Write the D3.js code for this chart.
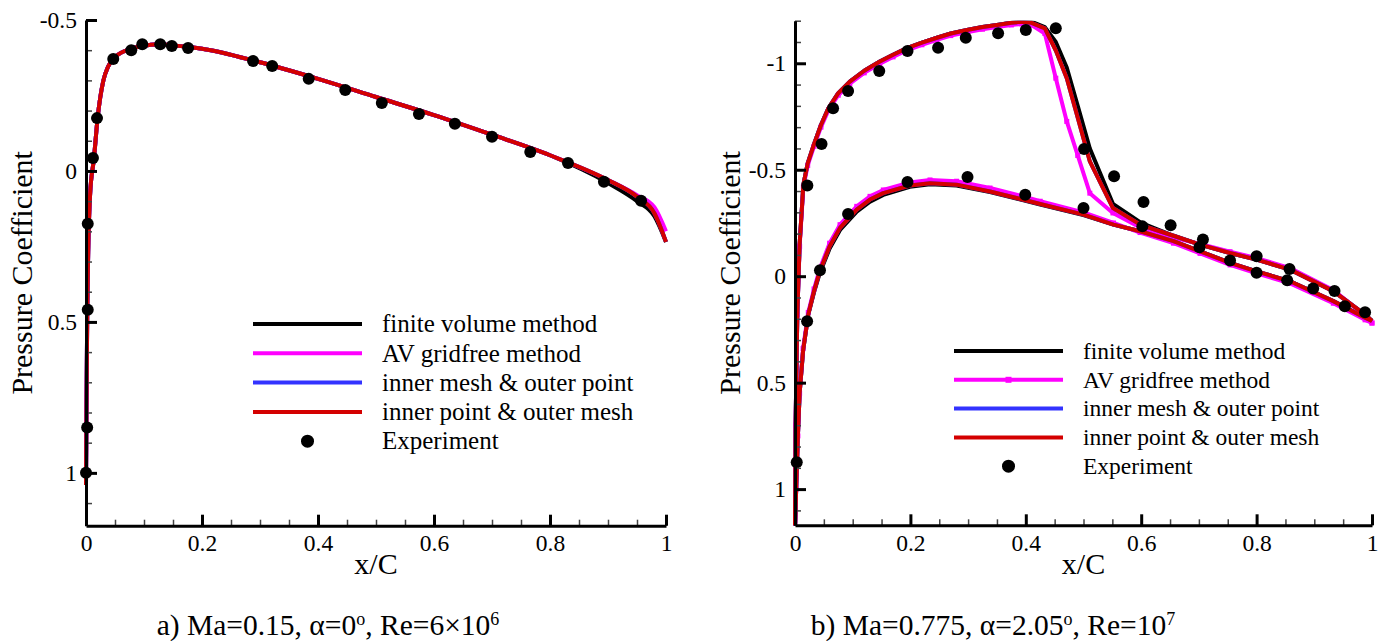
<!DOCTYPE html>
<html><head><meta charset="utf-8">
<script src="https://cdn.jsdelivr.net/npm/d3@7"></script>
<style>
html,body{margin:0;padding:0;background:#fff;}
text{font-family:"Liberation Serif","Times New Roman",serif;fill:#000;}
</style></head>
<body>
<svg id="chart" width="1391" height="641"></svg>
<script>
// ---------- DATA ----------
const seriesNames = ["finite volume method","AV gridfree method","inner mesh & outer point","inner point & outer mesh","Experiment"];
const seriesColors = ["#000000","#ff00ff","#3333ff","#d40000"];
const xTicks = [0,0.2,0.4,0.6,0.8,1];
const leftYTicks = [-0.5,0,0.5,1];
const rightYTicks = [-1,-0.5,0,0.5,1];

// (a) Ma=0.15
const leftX   = [0,0.0003,0.001,0.002,0.004,0.007,0.0138,0.02,0.03,0.038,0.047,0.07,0.093,0.128,0.15,0.18,0.2,0.3,0.4,0.5,0.6,0.7,0.8,0.9,0.95,0.98,1.0];
const leftFV  = [1.04,0.95,0.75,0.5,0.25,0.08,-0.043,-0.175,-0.30,-0.345,-0.371,-0.40,-0.412,-0.42,-0.416,-0.41,-0.405,-0.36,-0.305,-0.245,-0.185,-0.12,-0.052,0.04,0.10,0.15,0.235];
const leftAV  = [1.04,0.95,0.75,0.5,0.25,0.08,-0.043,-0.175,-0.30,-0.345,-0.371,-0.40,-0.412,-0.42,-0.416,-0.41,-0.405,-0.36,-0.305,-0.245,-0.185,-0.12,-0.052,0.03,0.08,0.12,0.20];
const leftIMOP= [1.04,0.95,0.75,0.5,0.25,0.08,-0.043,-0.175,-0.30,-0.345,-0.371,-0.40,-0.412,-0.42,-0.416,-0.41,-0.405,-0.36,-0.305,-0.245,-0.185,-0.12,-0.052,0.03,0.085,0.14,0.235];
const leftIPOM= [1.04,0.95,0.75,0.5,0.25,0.08,-0.043,-0.175,-0.30,-0.345,-0.371,-0.40,-0.412,-0.42,-0.416,-0.41,-0.405,-0.36,-0.305,-0.245,-0.185,-0.12,-0.052,0.03,0.085,0.14,0.235];
const leftExpX = [0,0.002,0.003,0.003,0.012,0.019,0.047,0.078,0.097,0.128,0.148,0.176,0.288,0.321,0.384,0.447,0.510,0.574,0.636,0.700,0.766,0.831,0.893,0.957];
const leftExpCp= [1.0,0.85,0.46,0.175,-0.043,-0.175,-0.371,-0.40,-0.42,-0.42,-0.414,-0.407,-0.364,-0.348,-0.305,-0.268,-0.225,-0.189,-0.156,-0.113,-0.063,-0.026,0.036,0.099];

// (b) Ma=0.775 upper surface
const rUpX   = [0,0.001,0.004,0.008,0.0145,0.022,0.033,0.045,0.058,0.075,0.095,0.12,0.147,0.17,0.194,0.22,0.246,0.27,0.298,0.325,0.35,0.375,0.393,0.41,0.433,0.452,0.471,0.49,0.511,0.551,0.6,0.656,0.702,0.754,0.8,0.858,0.933,0.988,1.0];
const rUpFV  = [1.2,0.7,0.18,-0.15,-0.43,-0.53,-0.62,-0.71,-0.79,-0.86,-0.914,-0.965,-1.008,-1.04,-1.071,-1.097,-1.12,-1.14,-1.156,-1.17,-1.18,-1.19,-1.2,-1.195,-1.17,-1.10,-0.98,-0.80,-0.60,-0.34,-0.25,-0.19,-0.148,-0.109,-0.078,-0.031,0.07,0.18,0.21];
const rUpAV  = [1.2,0.7,0.18,-0.14,-0.42,-0.52,-0.61,-0.70,-0.78,-0.85,-0.904,-0.955,-0.998,-1.03,-1.061,-1.087,-1.11,-1.13,-1.146,-1.16,-1.17,-1.18,-1.185,-1.18,-1.14,-0.93,-0.727,-0.567,-0.39,-0.297,-0.227,-0.18,-0.152,-0.115,-0.085,-0.038,0.065,0.185,0.22];
const rUpIMOP= [1.2,0.7,0.18,-0.15,-0.43,-0.53,-0.62,-0.71,-0.79,-0.86,-0.914,-0.965,-1.008,-1.04,-1.071,-1.097,-1.12,-1.14,-1.156,-1.17,-1.18,-1.19,-1.195,-1.19,-1.164,-1.06,-0.93,-0.744,-0.539,-0.32,-0.24,-0.19,-0.148,-0.109,-0.078,-0.031,0.07,0.18,0.21];
const rUpIPOM= [1.2,0.7,0.18,-0.15,-0.43,-0.53,-0.62,-0.71,-0.79,-0.86,-0.914,-0.965,-1.008,-1.04,-1.071,-1.097,-1.12,-1.14,-1.156,-1.17,-1.18,-1.19,-1.195,-1.19,-1.164,-1.06,-0.93,-0.744,-0.539,-0.32,-0.24,-0.19,-0.148,-0.109,-0.078,-0.031,0.07,0.18,0.21];
// (b) lower surface
const rLoX   = [0,0.002,0.005,0.008,0.014,0.023,0.033,0.043,0.06,0.078,0.107,0.13,0.153,0.199,0.234,0.28,0.338,0.396,0.425,0.5,0.552,0.598,0.656,0.702,0.754,0.8,0.858,0.933,0.988,1.0];
const rLoFV  = [1.2,1.0,0.75,0.55,0.35,0.18,0.075,-0.015,-0.13,-0.217,-0.303,-0.35,-0.382,-0.42,-0.432,-0.426,-0.395,-0.357,-0.337,-0.287,-0.242,-0.211,-0.165,-0.117,-0.063,-0.023,0.024,0.117,0.195,0.21];
const rLoAV  = [1.2,1.0,0.75,0.55,0.34,0.17,0.06,-0.035,-0.155,-0.242,-0.328,-0.375,-0.405,-0.44,-0.452,-0.446,-0.414,-0.375,-0.352,-0.30,-0.25,-0.205,-0.155,-0.107,-0.053,-0.013,0.034,0.127,0.205,0.22];
const rLoIMOP= [1.2,1.0,0.75,0.55,0.35,0.18,0.07,-0.023,-0.14,-0.227,-0.313,-0.36,-0.39,-0.426,-0.437,-0.43,-0.398,-0.359,-0.339,-0.289,-0.242,-0.211,-0.165,-0.117,-0.063,-0.023,0.024,0.117,0.195,0.21];
const rLoIPOM= [1.2,1.0,0.75,0.55,0.35,0.18,0.07,-0.023,-0.14,-0.227,-0.313,-0.36,-0.39,-0.426,-0.437,-0.43,-0.398,-0.359,-0.339,-0.289,-0.242,-0.211,-0.165,-0.117,-0.063,-0.023,0.024,0.117,0.195,0.21];
const rExpUpX = [0.0214,0.046,0.066,0.092,0.146,0.195,0.248,0.296,0.352,0.400,0.452,0.501,0.553,0.604,0.651,0.707,0.800,0.857,0.935,0.988];
const rExpUpCp= [-0.426,-0.621,-0.789,-0.870,-0.964,-1.058,-1.073,-1.12,-1.141,-1.156,-1.164,-0.597,-0.469,-0.349,-0.239,-0.172,-0.094,-0.034,0.070,0.169];
const rExpLoX = [0.003,0.021,0.0433,0.092,0.195,0.299,0.399,0.500,0.602,0.701,0.754,0.800,0.853,0.898,0.953];
const rExpLoCp= [0.874,0.212,-0.028,-0.292,-0.442,-0.466,-0.383,-0.320,-0.234,-0.136,-0.074,-0.016,0.019,0.058,0.141];

// ---------- DRAW ----------
const svg = d3.select("#chart");
svg.append("rect").attr("width",1391).attr("height",641).attr("fill","#fff");
const FONT = '"Liberation Serif","Times New Roman",serif';

function panel(cfg){
  const g = svg.append("g");
  const x = d3.scaleLinear().domain([0,1]).range([cfg.x0,cfg.x1]);
  const y = d3.scaleLinear().domain(cfg.yDomain).range([cfg.yTop,cfg.yBot]);
  const clipId = "clip"+cfg.id;
  svg.append("clipPath").attr("id",clipId).append("rect")
    .attr("x",cfg.x0-10).attr("y",cfg.yTop).attr("width",cfg.x1-cfg.x0+20).attr("height",cfg.yBot-cfg.yTop);
  const plot = g.append("g").attr("clip-path",`url(#${clipId})`);
  const line = d3.line().x(d=>x(d[0])).y(d=>y(d[1])).curve(cfg.curve);
  cfg.lines.forEach((L)=>{
    L.sets.forEach(([xs,ys])=>{
      const pts = xs.map((v,i)=>[v,ys[i]]);
      plot.append("path").datum(pts).attr("d",line).attr("fill","none")
        .attr("stroke",L.color).attr("stroke-width",4).attr("stroke-linejoin","round");
      if(L.markers){
        plot.selectAll(null).data(pts).enter().append("rect")
          .attr("x",d=>x(d[0])-2.5).attr("y",d=>y(d[1])-2.5).attr("width",5).attr("height",5).attr("fill",L.color);
      }
    });
  });
  cfg.exp.forEach(([xs,ys])=>{
    g.selectAll(null).data(xs.map((v,i)=>[v,ys[i]])).enter().append("circle")
      .attr("cx",d=>x(d[0])).attr("cy",d=>y(d[1])).attr("r",6).attr("fill","#000");
  });
  // axes
  const yMinor = d3.range(Math.ceil(cfg.yDomain[0]*10), Math.floor(cfg.yDomain[1]*10)+1).map(v=>v/10);
  const xMinor = d3.range(0,21).map(v=>v/20);
  g.append("g").attr("transform",`translate(${cfg.x0},0)`)
    .call(d3.axisLeft(y).tickValues(yMinor).tickFormat("").tickSizeInner(-6).tickSizeOuter(0))
    .call(a=>a.select(".domain").remove())
    .call(a=>a.selectAll("line").attr("stroke","#444").attr("stroke-width",1.5));
  g.append("g").attr("transform",`translate(0,${cfg.yBot})`)
    .call(d3.axisBottom(x).tickValues(xMinor).tickFormat("").tickSizeInner(-6).tickSizeOuter(0))
    .call(a=>a.select(".domain").remove())
    .call(a=>a.selectAll("line").attr("stroke","#444").attr("stroke-width",1.5));
  const ya = g.append("g").attr("transform",`translate(${cfg.x0},0)`)
    .call(d3.axisLeft(y).tickValues(cfg.yTicks).tickFormat(d=>d3.format("")(d).replace("−","-")).tickSizeInner(-11).tickSizeOuter(0).tickPadding(9));
  ya.select(".domain").attr("stroke","#000").attr("stroke-width",3);
  ya.selectAll("line").attr("stroke","#000").attr("stroke-width",3);
  ya.selectAll("text").attr("font-family",FONT).attr("font-size",23.5);
  const xa = g.append("g").attr("transform",`translate(0,${cfg.yBot})`)
    .call(d3.axisBottom(x).tickValues(xTicks).tickFormat(d3.format("")).tickSizeInner(-11).tickSizeOuter(0).tickPadding(9));
  xa.select(".domain").attr("stroke","#000").attr("stroke-width",3);
  xa.selectAll("line").attr("stroke","#000").attr("stroke-width",3);
  xa.selectAll("text").attr("font-family",FONT).attr("font-size",23.5);
  // titles
  g.append("text").attr("x",(cfg.x0+cfg.x1)/2).attr("y",574).attr("text-anchor","middle")
    .attr("font-size",30).text("x/C");
  g.append("text").attr("transform",`translate(${cfg.yTitleX},${(cfg.yTop+cfg.yBot)/2}) rotate(-90)`)
    .attr("text-anchor","middle").attr("font-size",30).text("Pressure Coefficient");
  // legend
  seriesNames.forEach((nm,i)=>{
    const yy = cfg.legY + i*cfg.legDy;
    if(i<4){
      g.append("line").attr("x1",cfg.legX0).attr("x2",cfg.legX1).attr("y1",yy).attr("y2",yy)
        .attr("stroke",seriesColors[i]).attr("stroke-width",4);
      if(i===1 && cfg.markers){
        g.append("rect").attr("x",(cfg.legX0+cfg.legX1)/2-3).attr("y",yy-3).attr("width",6).attr("height",6).attr("fill",seriesColors[1]);
      }
    } else {
      g.append("circle").attr("cx",(cfg.legX0+cfg.legX1)/2).attr("cy",yy).attr("r",6.5).attr("fill","#000");
    }
    g.append("text").attr("x",cfg.legText).attr("y",yy).attr("dy","0.33em").attr("font-size",cfg.legFont).text(nm);
  });
  // caption
  const cap = g.append("text").attr("x",cfg.capX).attr("y",635).attr("text-anchor","middle").attr("font-size",29.5);
  cfg.caption.forEach(([t,sup])=>{
    const ts = cap.append("tspan").text(t);
    if(sup){ ts.attr("baseline-shift","super").attr("font-size",18); }
  });
}

panel({id:"a", x0:86, x1:666, yDomain:[-0.5,1.175], yTop:20, yBot:525.7, yTicks:leftYTicks,
  curve:d3.curveMonotoneX, yTitleX:32,
  lines:[
    {color:seriesColors[0], sets:[[leftX,leftFV]]},
    {color:seriesColors[1], sets:[[leftX,leftAV]]},
    {color:seriesColors[2], sets:[[leftX,leftIMOP]]},
    {color:seriesColors[3], sets:[[leftX,leftIPOM]]}],
  exp:[[leftExpX,leftExpCp]],
  legY:324, legDy:29.3, legX0:253, legX1:362, legText:382, legFont:25, markers:false,
  capX:328, caption:[["a) Ma=0.15, α=0",false],["o",true],[", Re=6×10",false],["6",true]]});

panel({id:"b", x0:795, x1:1372, yDomain:[-1.2,1.17], yTop:20.7, yBot:525.3, yTicks:rightYTicks,
  curve:d3.curveLinear, yTitleX:740,
  lines:[
    {color:seriesColors[0], sets:[[rUpX,rUpFV],[rLoX,rLoFV]]},
    {color:seriesColors[1], sets:[[rUpX,rUpAV],[rLoX,rLoAV]], markers:true},
    {color:seriesColors[2], sets:[[rUpX,rUpIMOP],[rLoX,rLoIMOP]]},
    {color:seriesColors[3], sets:[[rUpX,rUpIPOM],[rLoX,rLoIPOM]]}],
  exp:[[rExpUpX,rExpUpCp],[rExpLoX,rExpLoCp]],
  legY:351, legDy:28.8, legX0:954, legX1:1063, legText:1083, legFont:23.5, markers:true,
  capX:993, caption:[["b) Ma=0.775, α=2.05",false],["o",true],[", Re=10",false],["7",true]]});
</script>
</body></html>
